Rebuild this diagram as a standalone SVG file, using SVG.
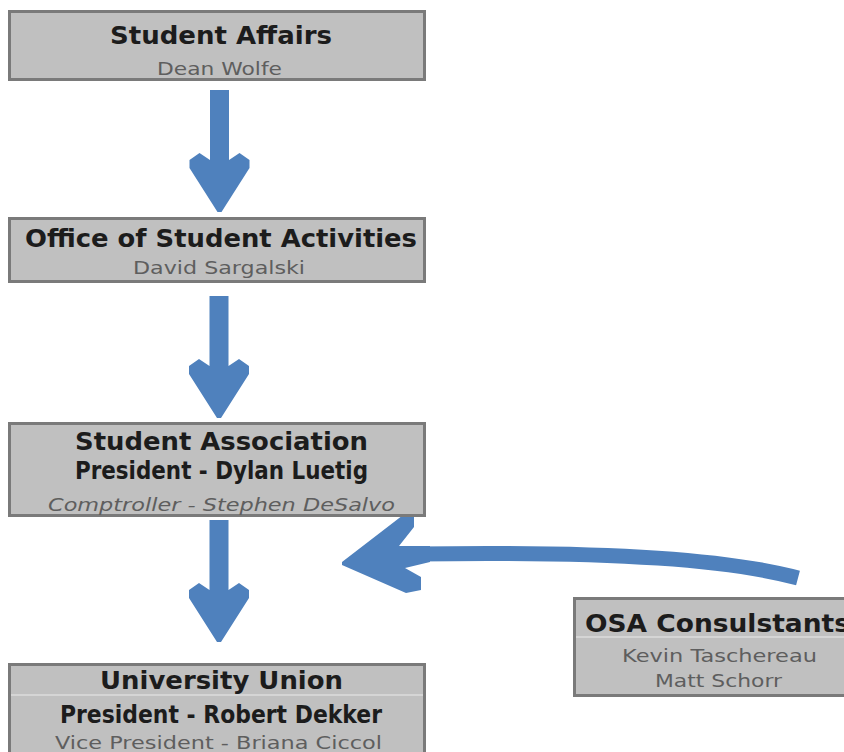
<svg xmlns="http://www.w3.org/2000/svg" width="844" height="752" viewBox="0 0 844 752">
<defs>
<style>
.box{fill:#c0c0c0;stroke:#7a7a7a;stroke-width:3}
.sep{stroke:#dcdcdc;stroke-width:1.5}
.t{font-family:"DejaVu Sans","Verdana",sans-serif;font-weight:bold;font-size:24px;fill:#1c1c1c;text-anchor:middle}
.s{font-family:"DejaVu Sans","Verdana",sans-serif;font-size:17px;fill:#5e5e5e;text-anchor:middle}
.arr{fill:#4f81bd}
</style>
<path id="down" d="M-9.5,0 H9.5 V70 L20,63 L30,70 V78 L2,122 H-2 L-30,78 V70 L-20,63 L-9.5,70 Z"/>
</defs>
<rect width="844" height="752" fill="#ffffff"/>
<g id="connectors">
<use href="#down" class="arr" transform="translate(219.5,90)"/>
<use href="#down" class="arr" transform="translate(219,296)"/>
<use href="#down" class="arr" transform="translate(219,520)"/>
<path d="M798,578 C730,560 620,551 415,554" fill="none" stroke="#4f81bd" stroke-width="15"/>
<polygon class="arr" points="342,562 407,512 414,516 414,527 399,546 430,546 430,562 405,568 421,577 421,590 406,593 342,565"/>
</g>
<g id="student-affairs">
<rect class="box" x="9.5" y="11.5" width="415" height="68"/>
<text class="t" x="221" y="44" textLength="222" lengthAdjust="spacingAndGlyphs">Student Affairs</text>
<text class="s" x="219.5" y="75" textLength="125" lengthAdjust="spacingAndGlyphs">Dean Wolfe</text>
</g>
<g id="office-student-activities">
<rect class="box" x="9.5" y="218.5" width="415" height="63"/>
<text class="t" x="221" y="247" textLength="392" lengthAdjust="spacingAndGlyphs">Office of Student Activities</text>
<text class="s" x="219" y="274" textLength="172" lengthAdjust="spacingAndGlyphs">David Sargalski</text>
</g>
<g id="student-association">
<rect class="box" x="9.5" y="423.5" width="415" height="92"/>
<text class="t" x="221.5" y="450" textLength="293" lengthAdjust="spacingAndGlyphs">Student Association</text>
<text class="t" x="221.5" y="479" textLength="293" lengthAdjust="spacingAndGlyphs">President - Dylan Luetig</text>
<text class="s" x="221.5" y="511" textLength="347" lengthAdjust="spacingAndGlyphs" font-style="italic">Comptroller - Stephen DeSalvo</text>
</g>
<g id="university-union">
<rect class="box" x="9.5" y="664.5" width="415" height="100"/>
<line class="sep" x1="11" y1="695" x2="423" y2="695"/>
<text class="t" x="221.5" y="689" textLength="243" lengthAdjust="spacingAndGlyphs" fill="#2a2a2a">University Union</text>
<text class="t" x="221" y="723" textLength="322" lengthAdjust="spacingAndGlyphs" font-size="20">President  - Robert Dekker</text>
<text class="s" x="218.5" y="749" textLength="327" lengthAdjust="spacingAndGlyphs" font-size="16">Vice President - Briana Ciccol</text>
</g>
<g id="osa-consultants">
<rect class="box" x="574.5" y="598.5" width="300" height="97"/>
<line class="sep" x1="576" y1="637" x2="844" y2="637"/>
<text class="t" x="585" y="632" textLength="265" lengthAdjust="spacingAndGlyphs" style="text-anchor:start">OSA Consulstants</text>
<text class="s" x="719.5" y="662" textLength="195" lengthAdjust="spacingAndGlyphs">Kevin Taschereau</text>
<text class="s" x="718.5" y="687" textLength="127" lengthAdjust="spacingAndGlyphs">Matt Schorr</text>
</g>
</svg>
